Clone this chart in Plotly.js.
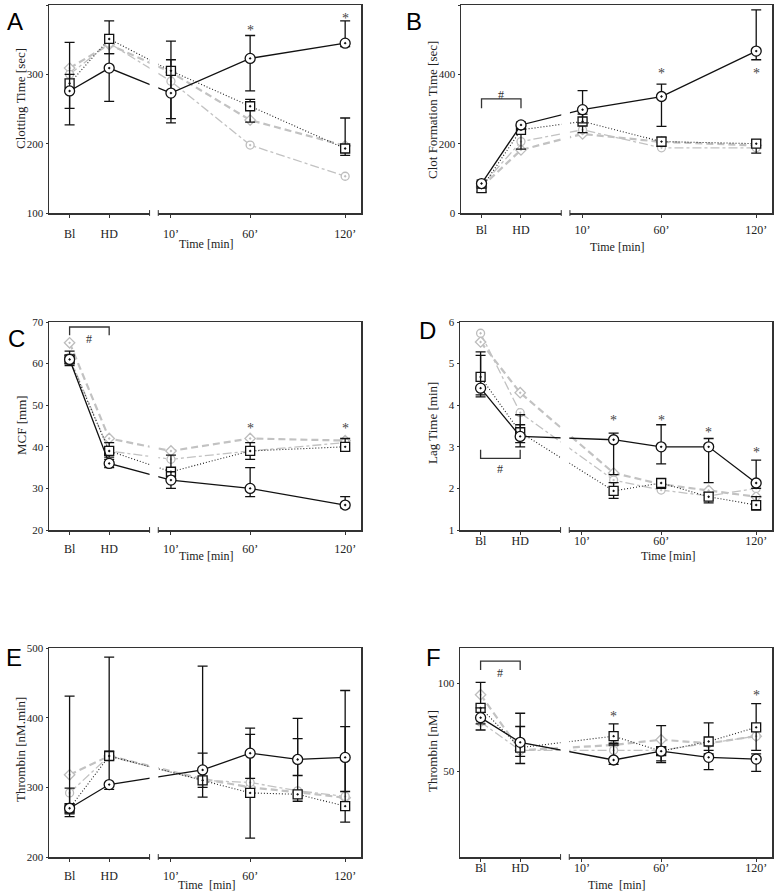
<!DOCTYPE html>
<html><head><meta charset="utf-8">
<script src="https://cdn.plot.ly/plotly-3.0.1.min.js"></script>
<style>body{margin:0;background:#fff}#chart{width:774px;height:892px}</style>
</head><body><div id="chart"></div>
<script>
// ---------- shared x axis ----------
const xTickLabels = ['Bl', 'HD', '10’', '60’', '120’'];
const xTickVals = [-54, -29, 10, 60, 120];
const xTimesABC = [-54, -29, 10, 60, 120];
const xTimesDEF = [-54, -29, 30, 60, 90, 120];

// ---------- Panel A: Clotting Time [sec] ----------
const aCircle   = [276, 309, 273, 323, 345];
const aCircleLo = [227, 261, 230, 276, 340];
const aCircleHi = [346, 330, 321, 356, 377];
const aSquare   = [287, 351, 305, 254, 193];
const aSquareLo = [251, 330, 236, 231, 183];
const aSquareHi = [300, 377, 348, 264, 237];
const aDashed   = [309, 343, 303, 234, 197];
const aDashDot  = [300, 345, 290, 198, 153];
const aStarX = [60, 120];
const aStarY = [369, 386];

// ---------- Panel B: Clot Formation Time [sec] ----------
const bCircle   = [85, 254, 298, 336, 467];
const bCircleLo = [72, 242, 260, 250, 442];
const bCircleHi = [95, 262, 353, 372, 586];
const bSquare   = [72, 240, 264, 206, 200];
const bSquareLo = [60, 184, 232, 192, 173];
const bSquareHi = [90, 250, 285, 219, 211];
const bDashed   = [75, 182, 228, 205, 195];
const bDashDot  = [78, 206, 240, 188, 188];
const bStarX = [60, 120];
const bStarY = [413, 413];
const bBracket = [302, 329, 346]; // tip, top, label

// ---------- Panel C: MCF [mm] ----------
const cCircle   = [61, 36, 32, 30, 26];
const cCircleLo = [59.5, 35, 30, 28, 25.3];
const cCircleHi = [63, 37, 34, 35, 28];
const cSquare   = [61, 39, 34, 39, 40];
const cSquareLo = [60, 37.5, 32.5, 37, 39];
const cSquareHi = [62, 41, 38, 41, 42];
const cDashed   = [65, 42, 39, 42, 41.5];
const cDashDot  = [61.5, 39, 37, 39, 41];
const cStarX = [60, 120];
const cStarY = [45.4, 45.4];
const cBracket = [66.8, 68.8, 66.4];

// ---------- Panel D: Lag Time [min] ----------
const dCircle   = [4.41, 3.25, 3.17, 3.0, 3.0, 2.13];
const dCircleLo = [4.2, 3.0, 2.33, 2.59, 2.14, 2.0];
const dCircleHi = [5.2, 3.53, 3.33, 3.53, 3.2, 2.68];
const dSquare   = [4.68, 3.35, 1.94, 2.13, 1.8, 1.6];
const dSquareLo = [4.25, 3.1, 1.76, 2.0, 1.65, 1.48];
const dSquareHi = [5.28, 3.77, 2.14, 2.23, 1.9, 1.8];
const dDashed   = [5.52, 4.3, 2.37, 2.1, 1.95, 1.8];
const dDashDot  = [5.73, 3.82, 2.2, 1.96, 1.82, 2.0];
const dStarX = [30, 60, 90, 120];
const dStarY = [3.73, 3.73, 3.45, 2.95];
const dBracket = [2.93, 2.72, 2.52];

// ---------- Panel E: Thrombin [nM.min] ----------
const eCircle   = [270, 304, 325, 349, 340, 343];
const eCircleLo = [258, 297, 286, 313, 317, 294];
const eCircleHi = [431, 487, 474, 385, 399, 439];
const eSquare   = [270, 345, 310, 292, 290, 273];
const eSquareLo = [262, 340, 300, 227, 280, 250];
const eSquareHi = [299, 352, 349, 376, 370, 387];
const eDashed   = [318, 345, 312, 300, 293, 285];
const eDashDot  = [292, 345, 310, 307, 295, 287];

// ---------- Panel F: Thrombin [nM] ----------
const fCircle   = [80.5, 66.5, 56.5, 61.5, 58, 57];
const fCircleLo = [73.5, 54.5, 54, 56, 51, 50];
const fCircleHi = [86, 75.5, 66, 76, 62, 60];
const fSquare   = [86, 63.5, 70, 61.5, 67, 75];
const fSquareLo = [77, 58.5, 65, 55, 60, 62];
const fSquareHi = [100.5, 83, 77, 64, 77.5, 88.5];
const fDashed   = [93.5, 62, 65, 68, 66, 70];
const fDashDot  = [78, 62, 62, 62, 66, 70];
const fStarX = [30, 120];
const fStarY = [83.4, 95.3];
const fBracket = [107.5, 112.6, 107];

// ---------- panel configuration ----------
const W = 774, H = 892;
const panels = [
  {letter:'A', x:xTimesABC, c:aCircle, cl:aCircleLo, ch:aCircleHi, s:aSquare, sl:aSquareLo, sh:aSquareHi, d:aDashed, dd:aDashDot, sx:aStarX, sy:aStarY, br:null,
   yr:[100,400], yt:[100,200,300,400], ytitle:'Clotting Time [sec]', px:[49,361], py:[5,213], so:6,
   letPos:[15,22], ytPos:[20,99], xtPos:[206,244], xtText:'Time [min]'},
  {letter:'B', x:xTimesABC, c:bCircle, cl:bCircleLo, ch:bCircleHi, s:bSquare, sl:bSquareLo, sh:bSquareHi, d:bDashed, dd:bDashDot, sx:bStarX, sy:bStarY, br:bBracket,
   yr:[0,600], yt:[0,200,400,600], ytitle:'Clot Formation Time [sec]', px:[461,772], py:[5,213], so:2,
   letPos:[414,22], ytPos:[432,110], xtPos:[617,247], xtText:'Time [min]'},
  {letter:'C', x:xTimesABC, c:cCircle, cl:cCircleLo, ch:cCircleHi, s:cSquare, sl:cSquareLo, sh:cSquareHi, d:cDashed, dd:cDashDot, sx:cStarX, sy:cStarY, br:cBracket,
   yr:[20,70], yt:[20,30,40,50,60,70], ytitle:'MCF [mm]', px:[49,361], py:[322,530], so:4,
   letPos:[16,339], ytPos:[21,425], xtPos:[207,556], xtText:'Time [min]'},
  {letter:'D', x:xTimesDEF, c:dCircle, cl:dCircleLo, ch:dCircleHi, s:dSquare, sl:dSquareLo, sh:dSquareHi, d:dDashed, dd:dDashDot, sx:dStarX, sy:dStarY, br:dBracket,
   yr:[1,6], yt:[1,2,3,4,5,6], ytitle:'Lag Time [min]', px:[460,772], py:[322,530], so:-4,
   letPos:[428,330], ytPos:[432,423], xtPos:[668,556], xtText:'Time [min]'},
  {letter:'E', x:xTimesDEF, c:eCircle, cl:eCircleLo, ch:eCircleHi, s:eSquare, sl:eSquareLo, sh:eSquareHi, d:eDashed, dd:eDashDot, sx:[], sy:[], br:null,
   yr:[200,500], yt:[200,300,400,500], ytitle:'Thrombin [nM.min]', px:[49,361], py:[648,857], so:4,
   letPos:[14,657], ytPos:[20,750], xtPos:[207,885], xtText:'Time  [min]'},
  {letter:'F', x:xTimesDEF, c:fCircle, cl:fCircleLo, ch:fCircleHi, s:fSquare, sl:fSquareLo, sh:fSquareHi, d:fDashed, dd:fDashDot, sx:fStarX, sy:fStarY, br:fBracket,
   yr:[1.5,120], yt:[50,100], ytitle:'Thrombin [nM]', px:[460,772], py:[648,857], so:-4,
   letPos:[434,657], ytPos:[432,751], xtPos:[617,885], xtText:'Time  [min]'}
];

const BLACK = '#111', GRAY = '#c2c2c2';
const serif = 'Liberation Serif';
const breakX = [-3.5, 2];

function errY(v, lo, hi) {
  return {type:'data', symmetric:false, visible:true,
    array: hi.map((h,i)=>h - v[i]), arrayminus: lo.map((l,i)=>v[i] - l),
    color: BLACK, thickness: 1.3, width: 5};
}

const traces = [], shapes = [], annotations = [];
const layout = {width:W, height:H, margin:{l:0,r:0,t:0,b:0}, showlegend:false,
  paper_bgcolor:'#fff', plot_bgcolor:'#fff', font:{family:serif, size:11, color:'#222'}};

panels.forEach((p, i) => {
  const n = i + 1;
  const xa = 'x' + (n === 1 ? '' : n), ya = 'y' + (n === 1 ? '' : n);
  const xkey = 'xaxis' + (n === 1 ? '' : n), ykey = 'yaxis' + (n === 1 ? '' : n);
  layout[xkey] = {domain:[p.px[0]/W, p.px[1]/W], anchor: ya, range:[-67,130],
    tickvals: xTickVals, ticktext: xTickLabels, ticks:'outside', ticklen:3, tickwidth:1, tickcolor:'#333',
    showline:true, mirror:true, linecolor:'#333', linewidth:1.5, showgrid:false, zeroline:false,
    ticklabelstandoff: p.so, tickfont:{family:serif, size:12, color:'#222'}};
  layout[ykey] = {domain:[1 - p.py[1]/H, 1 - p.py[0]/H], anchor: xa, range: p.yr,
    tickvals: p.yt, ticks:'outside', ticklen:2, tickwidth:1, tickcolor:'#333',
    showline:true, mirror:true, linecolor:'#333', linewidth:1.5, showgrid:false, zeroline:false,
    tickfont:{family:serif, size:11, color:'#222'}};

  const common = {xaxis: xa, yaxis: ya, type:'scatter', mode:'lines+markers', x: p.x, cliponaxis:false};
  traces.push(Object.assign({}, common, {y: p.d,
    line:{color:GRAY, width:2.2, dash:'7px,4px'},
    marker:{symbol:'diamond-dot', size:8, color:'#fff', line:{color:'#bdbdbd', width:1.3}}}));
  traces.push(Object.assign({}, common, {y: p.dd,
    line:{color:GRAY, width:1.3, dash:'dashdot'},
    marker:{symbol:'circle-dot', size:8, color:'#fff', line:{color:'#bdbdbd', width:1.3}}}));
  traces.push(Object.assign({}, common, {y: p.s, error_y: errY(p.s, p.sl, p.sh),
    line:{color:'#222', width:1.1, dash:'1px,2px'},
    marker:{symbol:'square-dot', size:9, color:'#fff', line:{color:BLACK, width:1.3}}}));
  traces.push(Object.assign({}, common, {y: p.c, error_y: errY(p.c, p.cl, p.ch),
    line:{color:BLACK, width:1.3},
    marker:{symbol:'circle-dot', size:10, color:'#fff', line:{color:BLACK, width:1.3}}}));
  p.sx.forEach((sx, k) => annotations.push({xref: xa, yref: ya, x: sx, y: p.sy[k], text:'*', showarrow:false,
    yshift:-4, font:{family:serif, size:14, color:'#444'}}));
  if (p.br) {
    const x0 = p.x[0], x1 = p.x[1];
    shapes.push({type:'path', xref: xa, yref: ya, layer:'above',
      path: `M ${x0},${p.br[0]} L ${x0},${p.br[1]} L ${x1},${p.br[1]} L ${x1},${p.br[0]}`,
      line:{color:'#333', width:1.3}});
    annotations.push({xref: xa, yref: ya, x:(x0 + x1)/2, y:p.br[2], text:'#', showarrow:false,
      yshift:-2, font:{family:serif, size:12, color:'#333'}});
  }
  // axis break
  shapes.push({type:'rect', xref: xa, yref: ya + ' domain', x0: breakX[0], x1: breakX[1], y0:-0.04, y1:0.99,
    fillcolor:'#fff', line:{width:0}, layer:'above'});
  breakX.forEach(bx => shapes.push({type:'line', xref: xa, yref: ya + ' domain', x0: bx, x1: bx, y0:-0.014, y1:0.014,
    line:{color:'#333', width:1}, layer:'above'}));

  annotations.push({xref:'paper', yref:'paper', x:p.letPos[0]/W, y:1 - p.letPos[1]/H, text:p.letter, showarrow:false,
    xanchor:'center', yanchor:'middle', font:{family:'Liberation Sans', size:24, color:'#000'}});
  annotations.push({xref:'paper', yref:'paper', x:p.ytPos[0]/W, y:1 - p.ytPos[1]/H, text:p.ytitle, showarrow:false,
    textangle:-90, xanchor:'center', yanchor:'middle', font:{family:serif, size:13, color:'#222'}});
  annotations.push({xref:'paper', yref:'paper', x:p.xtPos[0]/W, y:1 - p.xtPos[1]/H, text:p.xtText, showarrow:false,
    xanchor:'center', yanchor:'middle', font:{family:serif, size:12, color:'#222'}});
});

layout.shapes = shapes;
layout.annotations = annotations;
Plotly.newPlot('chart', traces, layout, {displayModeBar:false, staticPlot:true});
</script>
</body></html>
